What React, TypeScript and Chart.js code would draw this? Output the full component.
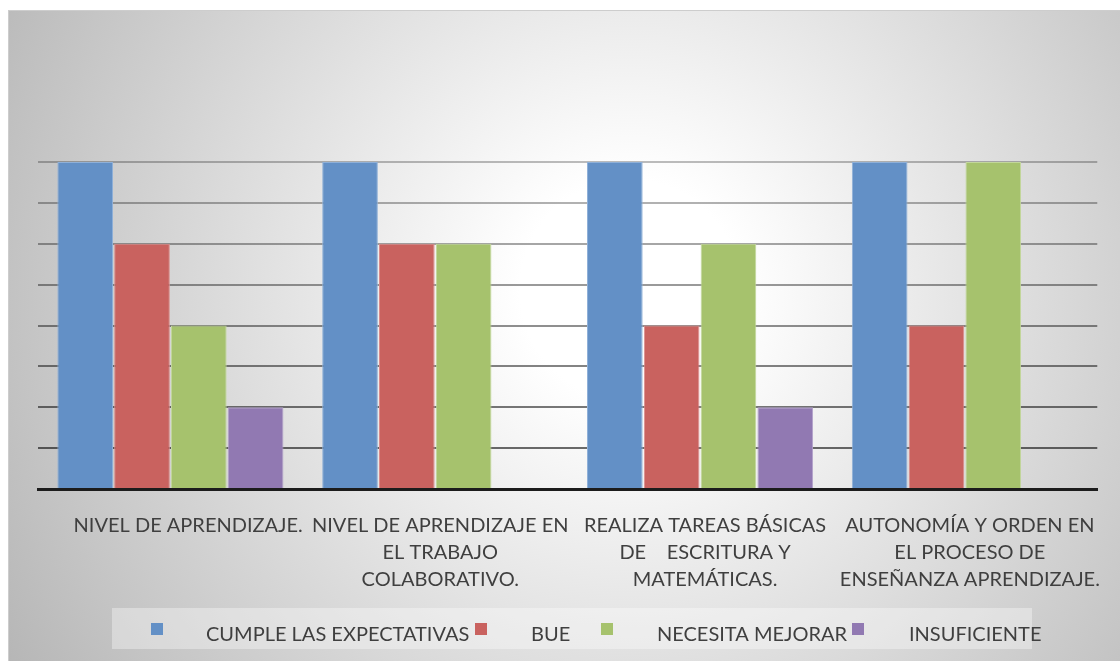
import React, { useEffect, useRef } from "react";
import { Chart, registerables } from "chart.js";

Chart.register(...registerables);

// ---- data ----
const categories: string[][] = [
  ["     NIVEL DE APRENDIZAJE."],
  ["NIVEL DE APRENDIZAJE EN", "EL TRABAJO", "COLABORATIVO."],
  ["REALIZA TAREAS BÁSICAS", "DE    ESCRITURA Y", "MATEMÁTICAS."],
  ["AUTONOMÍA Y ORDEN EN", "EL PROCESO DE", "ENSEÑANZA APRENDIZAJE."],
];
const seriesNames = ["CUMPLE LAS EXPECTATIVAS", "BUE", "NECESITA MEJORAR", "INSUFICIENTE"];
const cumple = [4, 4, 4, 4];
const bue = [3, 3, 2, 2];
const necesita = [2, 3, 3, 4];
const insuficiente = [1, 0, 1, 0];
const yMax = 4;
const yStep = 0.5;

// ---- styles ----
const FONT = "Lato";
const TEXT_COLOR = "#3f3f3f";
const fills = ["#6390c6", "#c9625f", "#a6c26d", "#9179b2"];
const edges = ["#8fb0d8", "#dc8d8b", "#c2d79b", "#b3a2cb"];
// legend layout (box x, text x) in canvas pixels
const legendSlots = [
  { box: 151, text: 206 },
  { box: 475, text: 531 },
  { box: 601, text: 657 },
  { box: 852, text: 909 },
];

const backgroundPlugin = {
  id: "bgPlugin",
  beforeDraw(chart: any) {
    const { ctx, width, height } = chart;
    ctx.save();
    ctx.fillStyle = "#ffffff";
    ctx.fillRect(0, 0, width, height);
    const g = ctx.createRadialGradient(630, 290, 110, 630, 290, 760);
    g.addColorStop(0, "#ffffff");
    g.addColorStop(1, "#b2b2b2");
    ctx.fillStyle = g;
    ctx.fillRect(8, 10, width - 8, height - 10);
    ctx.strokeStyle = "#cdcdcd";
    ctx.lineWidth = 1;
    ctx.strokeRect(8.5, 10.5, width, height);
    ctx.restore();
  },
};

const legendPlugin = {
  id: "customLegend",
  afterDraw(chart: any) {
    const { ctx } = chart;
    ctx.save();
    ctx.fillStyle = "rgba(255,255,255,0.35)";
    ctx.fillRect(112, 608, 920, 41);
    ctx.font = `20px ${FONT}`;
    ctx.textBaseline = "middle";
    ctx.textAlign = "left";
    seriesNames.forEach((name, i) => {
      const slot = legendSlots[i];
      ctx.fillStyle = fills[i];
      ctx.fillRect(slot.box, 623, 12, 12);
      ctx.fillStyle = TEXT_COLOR;
      ctx.fillText(name, slot.text, 635);
    });
    ctx.restore();
  },
};

export default function App() {
  const ref = useRef<HTMLCanvasElement | null>(null);
  useEffect(() => {
    if (!ref.current) return;
    const dataSets = [cumple, bue, necesita, insuficiente];
    const chart = new Chart(ref.current, {
      type: "bar",
      data: {
        labels: categories,
        datasets: dataSets.map((d, i) => ({
          label: seriesNames[i],
          data: d,
          backgroundColor: fills[i],
          borderColor: edges[i],
          borderWidth: 1,
          categoryPercentage: 0.858,
          barPercentage: 0.98,
        })),
      },
      options: {
        responsive: false,
        animation: false,
        layout: { padding: { left: 38, right: 17, top: 162, bottom: 0 } },
        plugins: {
          legend: { display: false },
          tooltip: { enabled: false },
          title: { display: false },
        },
        scales: {
          x: {
            grid: { display: false, drawTicks: false },
            border: { display: true, color: "#1c1c1c", width: 3 },
            ticks: {
              color: TEXT_COLOR,
              font: { family: FONT, size: 20, lineHeight: 1.35 },
              padding: 23,
              maxRotation: 0,
              autoSkip: false,
              labelOffset: 5,
            },
            afterFit(scale: any) {
              scale.height = 661 - 489;
            },
          },
          y: {
            min: 0,
            max: yMax,
            z: 1,
            ticks: { display: false, stepSize: yStep },
            border: { display: false },
            grid: {
              drawTicks: false,
              lineWidth: 2,
              color: (c: any) => {
                const v = c.tick ? c.tick.value : 0;
                if (v === 0) return "rgba(0,0,0,0)";
                const a = 0.62 - (v / yMax) * 0.36;
                return `rgba(0,0,0,${a.toFixed(3)})`;
              },
            },
            afterFit(scale: any) {
              scale.width = 0;
            },
          },
        },
      },
      plugins: [backgroundPlugin, legendPlugin],
    });
    return () => chart.destroy();
  }, []);
  return (
    <canvas
      ref={ref}
      width={1120}
      height={661}
      style={{ position: "absolute", left: 0, top: 0, width: 1120, height: 661 }}
    />
  );
}
